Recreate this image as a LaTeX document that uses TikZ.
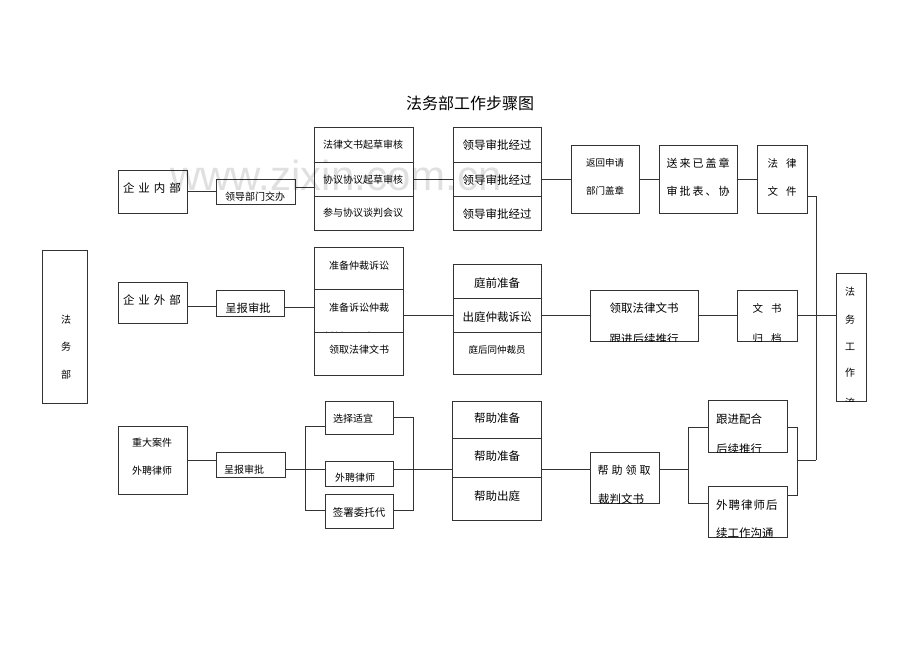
\documentclass[tikz,border=0pt]{standalone}
\usepackage{fontspec}
\setmainfont{Noto Sans CJK SC}
\newfontfamily\wmfont{Liberation Sans}
\usetikzlibrary{calc}
\newcommand\fs[1]{\fontsize{#1}{#1}\selectfont}
\makeatletter
\def\tsp#1#2{\def\tsp@gap{#1}\tsp@loop#2\tsp@end}
\def\tsp@loop#1#2\tsp@end{#1\ifx\relax#2\relax\else\kern\tsp@gap\tsp@loop#2\tsp@end\fi}
\makeatother
\newcommand\bx[5]{\node[box, minimum width={(#4-#2)*1pt}, minimum height={(#5-#3)*1pt}] (#1) at ({(#2+#4)/2},{(#3+#5)/2}) {};}
\newcommand\clipin[2]{\begin{scope}\clip (#1.south west) rectangle (#1.north east); #2\end{scope}}
\begin{document}
\begin{tikzpicture}[x=1pt,y=-1pt,
 box/.style={draw=black!80, line width=0.9pt, fill=white, inner sep=0pt, outer sep=0pt},
 ln/.style={draw=black!80, line width=0.9pt},
 t/.style={inner sep=0pt, outer sep=0pt, text=black, font=\fs{10}}]
\fill[white] (0,0) rectangle (920,651);
\useasboundingbox (0,0) rectangle (920,651);

\node[t,font=\fs{16}] (title) at (470,103) {法务部工作步骤图};

% left department box
\bx{fwb}{42}{250}{87}{403}
\node[t] (fwb1) at (66,320) {法};
\node[t] (fwb2) at (66,347) {务};
\node[t] (fwb3) at (66,375) {部};

% ---------- top row ----------
\bx{nei}{118}{170}{187}{213}
\node[t,font=\fs{11.5}] (neit) at (152,188) {\tsp{4pt}{企业内部}};
\bx{ldjb}{216}{179}{295}{204}
\node[t] (ldjbt) at (255,197) {领导部门交办};
\bx{s1a}{314}{127}{413}{162}
\bx{s1b}{314}{162}{413}{196}
\bx{s1c}{314}{196}{413}{230}
\node[t] (s1at) at (363,145) {法律文书起草审核};
\node[t] (s1bt) at (363,180) {协议协议起草审核};
\node[t] (s1ct) at (363,213) {参与协议谈判会议};
\bx{s2a}{453}{127}{541}{162}
\bx{s2b}{453}{162}{541}{196}
\bx{s2c}{453}{196}{541}{230}
\node[t,font=\fs{11.5}] (s2at) at (497,145) {领导审批经过};
\node[t,font=\fs{11.5}] (s2bt) at (497,180) {领导审批经过};
\node[t,font=\fs{11.5}] (s2ct) at (497,214) {领导审批经过};
\bx{fhsq}{571}{145}{639}{213}
\node[t,font=\fs{9.5}] (fhsq1) at (605,163) {返回申请};
\node[t,font=\fs{9.5}] (fhsq2) at (605,191) {部门盖章};
\bx{slgz}{659}{145}{737}{213}
\node[t,font=\fs{11}] (slgz1) at (698,163) {\tsp{2pt}{送来已盖章}};
\node[t,font=\fs{11}] (slgz2) at (698,191) {\tsp{2pt}{审批表、协}};
\bx{flwj}{757}{145}{807}{213}
\node[t,font=\fs{10.5}] (flwj1) at (782,163) {\tsp{8pt}{法律}};
\node[t,font=\fs{10.5}] (flwj2) at (782,191) {\tsp{8pt}{文件}};

% right summary box
\bx{fwgz}{836}{273}{866}{401}
\node[t] (fwgz1) at (850,292) {法};
\node[t] (fwgz2) at (850,320) {务};
\node[t] (fwgz3) at (850,347) {工};
\node[t] (fwgz4) at (850,373) {作};
\clipin{fwgz}{\node[t] (fwgz5) at (850,403) {流};}

% ---------- middle row ----------
\bx{wai}{118}{282}{187}{323}
\node[t,font=\fs{11.5}] (wait) at (152,300) {\tsp{4pt}{企业外部}};
\bx{cbsp1}{216}{290}{284}{316}
\node[t,font=\fs{11.3}] (cbsp1t) at (248,308) {呈报审批};
\bx{mA}{314}{247}{403}{332}
\node[t] (mAt) at (359,266) {准备仲裁诉讼};
\clipin{mA}{\node[t] (mAt2) at (359,295) {工作、收集证据};}
\bx{mB}{314}{289}{403}{332}
\node[t] (mBt) at (359,308) {准备诉讼仲裁};
\clipin{mB}{\node[t] (mBt2) at (359,337) {材料、调查取证};}
\bx{mC}{314}{332}{403}{375}
\node[t] (mCt) at (359,350) {领取法律文书};
\bx{tq1}{453}{264}{541}{298}
\bx{tq2}{453}{298}{541}{332}
\bx{tq3}{453}{332}{541}{374}
\node[t,font=\fs{11.5}] (tq1t) at (497,283) {庭前准备};
\node[t,font=\fs{11.5}] (tq2t) at (497,317) {出庭仲裁诉讼};
\node[t,font=\fs{9.5}] (tq3t) at (497,350) {庭后同仲裁员};
\bx{lqws}{590}{290}{698}{341}
\node[t,font=\fs{11.5}] (lqws1) at (644,308) {领取法律文书};
\clipin{lqws}{\node[t,font=\fs{11.5}] (lqws2) at (644,339) {跟进后续推行};}
\bx{wsgd}{737}{290}{797}{341}
\node[t,font=\fs{10.5}] (wsgd1) at (767,308) {\tsp{8pt}{文书}};
\clipin{wsgd}{\node[t,font=\fs{10.5}] (wsgd2) at (767,339) {\tsp{8pt}{归档}};}

% ---------- bottom row ----------
\bx{zdaj}{118}{426}{187}{494}
\node[t] (zdaj1) at (152,443) {重大案件};
\node[t] (zdaj2) at (152,471) {外聘律师};
\bx{cbsp2}{216}{452}{285}{477}
\node[t] (cbsp2t) at (244,470) {呈报审批};
\bx{xzsy}{325}{401}{393}{434}
\node[t] (xzsyt) at (353,419) {选择适宜};
\bx{wplss}{325}{461}{393}{486}
\node[t] (wplsst) at (355,478) {外聘律师};
\bx{qswt}{325}{494}{393}{528}
\node[t,font=\fs{10.5}] (qswtt) at (359,512) {签署委托代};
\bx{bz1}{452}{401}{541}{438}
\bx{bz2}{452}{438}{541}{477}
\bx{bz3}{452}{477}{541}{520}
\node[t,font=\fs{11.5}] (bz1t) at (497,418) {帮助准备};
\node[t,font=\fs{11.5}] (bz2t) at (497,456) {帮助准备};
\node[t,font=\fs{11.5}] (bz3t) at (497,496) {帮助出庭};
\bx{bzlq}{590}{452}{659}{503}
\node[t,font=\fs{11}] (bzlq1) at (624,470) {\tsp{3pt}{帮助领取}};
\clipin{bzlq}{\node[t,font=\fs{11.5}] (bzlq2) at (621,499) {裁判文书};}
\bx{gjph}{708}{400}{787}{452}
\node[t,font=\fs{11.5},anchor=west] (gjph1) at (716,419) {跟进配合};
\clipin{gjph}{\node[t,font=\fs{11.5},anchor=west] (gjph2) at (716,449) {后续推行};}
\bx{wplsh}{708}{486}{787}{537}
\node[t,font=\fs{11.5},anchor=west] (wplsh1) at (716,505) {\tsp{1pt}{外聘律师后}};
\clipin{wplsh}{\node[t,font=\fs{11.5},anchor=west] (wplsh2) at (716,533) {续工作沟通};}

% ---------- connectors ----------
\coordinate (c1) at ([yshift=4.5pt]ldjb.east);
\coordinate (c2) at ([yshift=-4pt]wai.east);
\coordinate (c3) at ([yshift=-4pt]cbsp1.east);
\coordinate (c4) at ([yshift=-4.5pt]cbsp2.east);
\coordinate (rtop) at (816,196);
\coordinate (rbot) at (816,460);
\coordinate (lbt) at (305,426);
\coordinate (lbb) at (305,510);
\coordinate (rbt) at (413,417);
\coordinate (rbb) at (413,510);
\coordinate (b2t) at (688,427);
\coordinate (b2b) at (688,503);
\coordinate (b3t) at (797,427);
\coordinate (b3b) at (797,495);
\coordinate (b3m) at (797,460);

\draw[ln] (nei.east) -- (nei.east -| ldjb.west);
\draw[ln] (c1) -- (c1 -| s1b.west);
\draw[ln] (s1b.east) -- (s1b.east -| s2b.west);
\draw[ln] (s2b.east) -- (s2b.east -| fhsq.west);
\draw[ln] (fhsq.east) -- (fhsq.east -| slgz.west);
\draw[ln] (slgz.east) -- (slgz.east -| flwj.west);
\draw[ln] (rtop -| flwj.east) -- (rtop) -- (rbot);

\draw[ln] (c2) -- (c2 -| cbsp1.west);
\draw[ln] (c3) -- (c3 -| mB.west);
\draw[ln] (tq2.west -| mB.east) -- (tq2.west);
\draw[ln] (tq2.east) -- (tq2.east -| lqws.west);
\draw[ln] (lqws.east) -- (lqws.east -| wsgd.west);
\draw[ln] (wsgd.east) -- (wsgd.east -| fwgz.west);

\draw[ln] (zdaj.east) -- (zdaj.east -| cbsp2.west);
\draw[ln] (c4) -- (c4 -| wplss.west);
\draw[ln] (lbt -| xzsy.west) -- (lbt) -- (lbb) -- (lbb -| qswt.west);
\draw[ln] (rbt -| xzsy.east) -- (rbt) -- (rbb) -- (rbb -| qswt.east);
\draw[ln] (c4 -| wplss.east) -- (c4 -| bz2.west);
\draw[ln] (c4 -| bz2.east) -- (c4 -| bzlq.west);
\draw[ln] (c4 -| bzlq.east) -- (c4 -| b2t);
\draw[ln] (b2t -| gjph.west) -- (b2t) -- (b2b) -- (b2b -| wplsh.west);
\draw[ln] (b3t -| gjph.east) -- (b3t) -- (b3b) -- (b3b -| wplsh.east);
\draw[ln] (b3m) -- (rbot);

% watermark
\node[anchor=base west, inner sep=0pt, font=\wmfont\fontsize{42}{42}\selectfont, text=black, opacity=0.12] (wm) at (170,190) {www.zixin.com.cn};
\end{tikzpicture}
\end{document}
